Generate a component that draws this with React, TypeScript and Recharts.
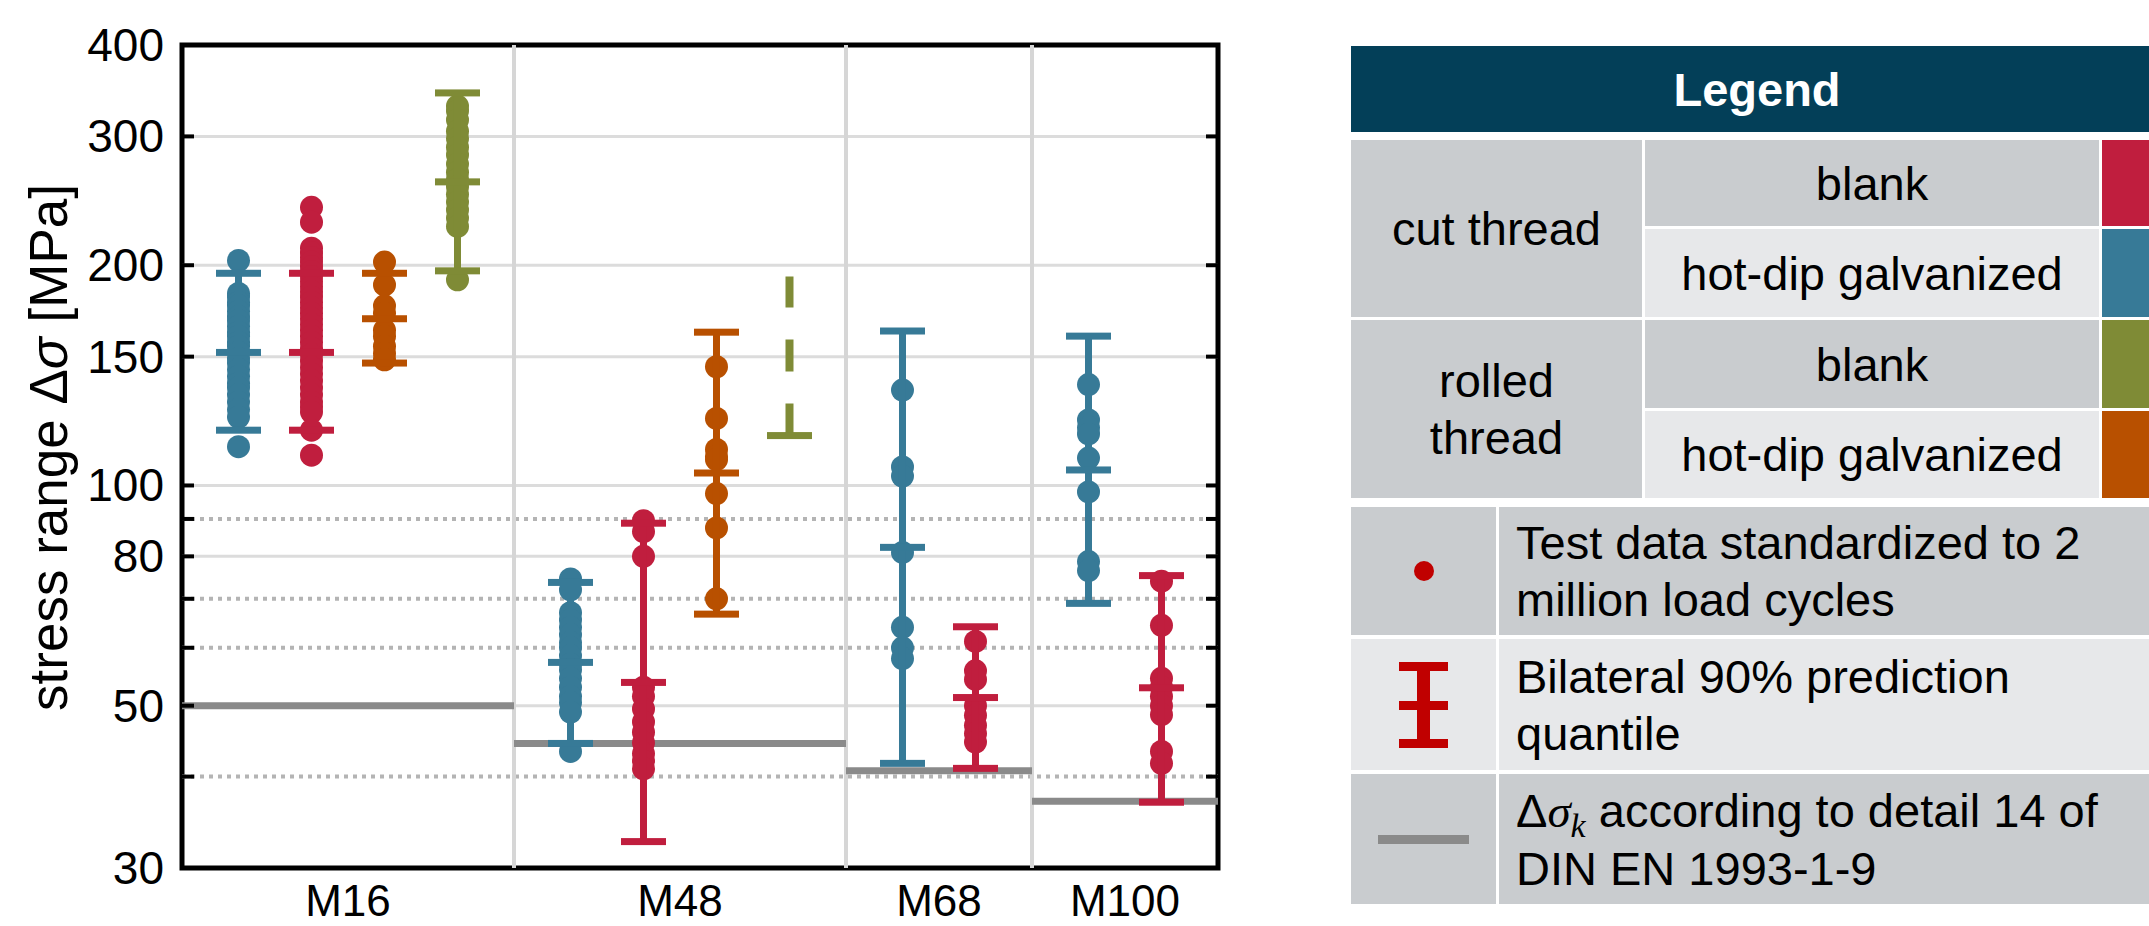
import React from "react";
import { ComposedChart, Scatter, XAxis, YAxis, ReferenceLine, ReferenceArea } from "recharts";

const FONT = "'Liberation Sans', Arial, Helvetica, sans-serif";

const BLUE = "#377a97";
const RED = "#c01e3e";
const ORANGE = "#b85000";
const GREEN = "#7f8b36";
const DSK_GRAY = "#8a8a8a";

const GROUPS = ["M16", "M48", "M68", "M100"];
const SLOTS = [4, 4, 2, 2];
// Δσk (detail 14, DIN EN 1993-1-9) per bolt size
const DELTA_SIGMA_K = [50, 44.4, 40.75, 37.0];

const Y_TICKS = [30, 40, 50, 60, 70, 80, 90, 100, 150, 200, 300, 400];
const Y_LABELED = [30, 50, 80, 100, 150, 200, 300, 400];
const GRID_SOLID = [50, 80, 100, 150, 200, 300];
const GRID_DOTTED = [40, 60, 70, 90];

// test data standardized to 2 million load cycles [MPa]
const M16_CUT_HDG = [203, 183, 181, 178, 176, 173, 170, 168, 165, 162, 160, 157, 155, 152, 149, 147, 144, 141, 138, 136, 133, 130, 127, 124, 113];
const M16_CUT_BLANK = [240, 229, 211, 208, 205, 202, 199, 196, 193, 190, 187, 184, 181, 178, 175, 172, 169, 166, 163, 160, 157, 154, 151, 148, 145, 142, 139, 136, 133, 130, 128, 126, 119, 110];
const M16_ROLLED_HDG = [202, 188, 176, 172, 163, 160, 155, 151.5, 148.5];
const M16_ROLLED_BLANK = [330, 325, 316, 305, 298, 290, 283, 275, 268, 262, 256, 250, 244, 238, 232, 226, 191];
const M48_CUT_HDG = [74.5, 72, 67, 65.5, 64, 62.5, 61, 60, 58.5, 57, 56, 54.5, 53, 51.5, 50.5, 49, 43.3];
const M48_CUT_BLANK = [89.5, 86.5, 80, 53, 51.5, 49.5, 47.5, 46, 44.5, 43, 42, 41];
const M48_ROLLED_HDG = [145.3, 123.5, 112, 109.5, 108.5, 97.5, 87.5, 70];
const M68_CUT_HDG = [135, 106, 103, 81, 64, 60, 58];
const M68_CUT_BLANK = [61.2, 55.8, 54.3, 50, 48.5, 47, 45.8, 44.6];
const M100_CUT_HDG = [137.4, 122.9, 120, 117.6, 109, 98, 78.7, 76.5];
const M100_CUT_BLANK = [74, 64.4, 54.5, 53, 51.5, 50, 48.6, 43.3, 41.7];

// bilateral 90% prediction quantile [lower, mean, upper]
const M16_CUT_HDG_Q = [119, 152, 195];
const M16_CUT_BLANK_Q = [119, 152, 195];
const M16_ROLLED_HDG_Q = [147, 169, 195];
const M16_ROLLED_BLANK_Q = [196.5, 260, 344];
const M48_CUT_HDG_Q = [44.4, 57.3, 73.7];
const M48_CUT_BLANK_Q = [32.6, 53.8, 88.8];
const M48_ROLLED_HDG_Q = [66.7, 104, 162];
const M48_ROLLED_BLANK_RANGE = [117, 193]; // lower quantile only, dashed
const M68_CUT_HDG_Q = [41.7, 82.3, 162.6];
const M68_CUT_BLANK_Q = [41.05, 51.3, 64.1];
const M100_CUT_HDG_Q = [69, 105, 160];
const M100_CUT_BLANK_Q = [36.9, 52.9, 75.3];

const PAD = 0.774;
const GROUP_W = SLOTS.map((n) => n - 1 + 2 * PAD);
const GROUP_START = GROUP_W.map((_, i) => GROUP_W.slice(0, i).reduce((a, b) => a + b, 0));
const X_MAX = GROUP_W.reduce((a, b) => a + b, 0);
const GROUP_CENTER = GROUP_START.map((s, i) => s + GROUP_W[i] / 2);
const slotX = (g: number, s: number) => GROUP_START[g] + PAD + s;

const SERIES = [
  { g: 0, s: 0, color: BLUE, pts: M16_CUT_HDG, q: M16_CUT_HDG_Q },
  { g: 0, s: 1, color: RED, pts: M16_CUT_BLANK, q: M16_CUT_BLANK_Q },
  { g: 0, s: 2, color: ORANGE, pts: M16_ROLLED_HDG, q: M16_ROLLED_HDG_Q },
  { g: 0, s: 3, color: GREEN, pts: M16_ROLLED_BLANK, q: M16_ROLLED_BLANK_Q },
  { g: 1, s: 0, color: BLUE, pts: M48_CUT_HDG, q: M48_CUT_HDG_Q },
  { g: 1, s: 1, color: RED, pts: M48_CUT_BLANK, q: M48_CUT_BLANK_Q },
  { g: 1, s: 2, color: ORANGE, pts: M48_ROLLED_HDG, q: M48_ROLLED_HDG_Q },
  { g: 2, s: 0, color: BLUE, pts: M68_CUT_HDG, q: M68_CUT_HDG_Q },
  { g: 2, s: 1, color: RED, pts: M68_CUT_BLANK, q: M68_CUT_BLANK_Q },
  { g: 3, s: 0, color: BLUE, pts: M100_CUT_HDG, q: M100_CUT_HDG_Q },
  { g: 3, s: 1, color: RED, pts: M100_CUT_BLANK, q: M100_CUT_BLANK_Q },
];

const Empty = () => <g />;

const capShape = (color: string) => (p: any) => (
  <rect x={p.cx - 22.5} y={p.cy - 3.5} width={45} height={7} fill={color} />
);

const dotShape = (color: string) => (p: any) => <circle cx={p.cx} cy={p.cy} r={11.5} fill={color} />;

const LeftTick = (p: any) => {
  const v = p.payload.value;
  return (
    <g>
      <line x1={p.x + 18} x2={p.x + 30} y1={p.y} y2={p.y} stroke="#000" strokeWidth={4} />
      {Y_LABELED.includes(v) && (
        <text x={p.x} y={p.y + 16} textAnchor="end" fontSize={46} fontFamily={FONT} fill="#000">
          {v}
        </text>
      )}
    </g>
  );
};

const RightTick = (p: any) => (
  <line x1={p.x - 12} x2={p.x} y1={p.y} y2={p.y} stroke="#000" strokeWidth={4} />
);

const BottomTick = (p: any) => {
  const v = p.payload.value;
  let idx = 0;
  GROUP_CENTER.forEach((c, i) => {
    if (Math.abs(c - v) < Math.abs(GROUP_CENTER[idx] - v)) idx = i;
  });
  return (
    <text x={p.x} y={p.y + 48} textAnchor="middle" fontSize={44} fontFamily={FONT} fill="#000">
      {GROUPS[idx]}
    </text>
  );
};

const YLabel = (p: any) => {
  const vb = p.viewBox;
  const x = vb.x + 67;
  const y = vb.y + vb.height / 2 - 9;
  return (
    <text x={x} y={y} transform={`rotate(-90, ${x}, ${y})`} textAnchor="middle" fontSize={53} fontFamily={FONT} fill="#000">
      stress range Δ<tspan fontStyle="italic">σ</tspan> [MPa]
    </text>
  );
};

function Chart() {
  return (
    <ComposedChart width={1300} height={926} margin={{ top: 45, right: 0, bottom: 0, left: 0 }}>
      <XAxis
        dataKey="x"
        type="number"
        domain={[0, X_MAX]}
        ticks={GROUP_CENTER}
        allowDataOverflow
        axisLine={false}
        tickLine={false}
        tickSize={0}
        tickMargin={0}
        height={58}
        tick={<BottomTick />}
        interval={0}
      />
      <YAxis
        dataKey="y"
        scale="log"
        domain={[30, 400]}
        ticks={Y_TICKS}
        allowDataOverflow
        axisLine={false}
        tickLine={false}
        tickSize={0}
        tickMargin={18}
        width={182}
        interval={0}
        tick={<LeftTick />}
        label={{ content: YLabel }}
      />
      <YAxis
        yAxisId="right"
        orientation="right"
        dataKey="y"
        scale="log"
        domain={[30, 400]}
        ticks={Y_TICKS}
        allowDataOverflow
        axisLine={false}
        tickLine={false}
        tickSize={0}
        tickMargin={0}
        width={82}
        interval={0}
        tick={<RightTick />}
      />

      {GRID_SOLID.map((v) => (
        <ReferenceLine key={"gs" + v} y={v} stroke="#dcdcdc" strokeWidth={3} />
      ))}
      {GRID_DOTTED.map((v) => (
        <ReferenceLine key={"gd" + v} y={v} stroke="#b4b4b4" strokeWidth={4} strokeDasharray="4 5" />
      ))}
      {GROUP_START.slice(1).map((s) => (
        <ReferenceLine key={"gv" + s} x={s} stroke="#d6d6d6" strokeWidth={4} />
      ))}

      {DELTA_SIGMA_K.map((v, g) => (
        <Scatter
          key={"dsk" + g}
          data={[{ x: GROUP_START[g], y: v }, { x: GROUP_START[g] + GROUP_W[g], y: v }]}
          dataKey="y"
          fill={DSK_GRAY}
          line={{ stroke: DSK_GRAY, strokeWidth: 7 }}
          shape={Empty}
          isAnimationActive={false}
        />
      ))}

      {SERIES.map((sr, i) => (
        <Scatter
          key={"pts" + i}
          data={sr.pts.map((v) => ({ x: slotX(sr.g, sr.s), y: v }))}
          dataKey="y"
          fill={sr.color}
          shape={dotShape(sr.color)}
          isAnimationActive={false}
        />
      ))}

      {SERIES.map((sr, i) => (
        <Scatter
          key={"q" + i}
          data={sr.q.map((v) => ({ x: slotX(sr.g, sr.s), y: v }))}
          dataKey="y"
          fill={sr.color}
          line={{ stroke: sr.color, strokeWidth: 7 }}
          shape={capShape(sr.color)}
          isAnimationActive={false}
        />
      ))}

      <Scatter
        data={M48_ROLLED_BLANK_RANGE.map((v) => ({ x: slotX(1, 3), y: v }))}
        dataKey="y"
        fill={GREEN}
        line={{ stroke: GREEN, strokeWidth: 8, strokeDasharray: "32 32" }}
        shape={Empty}
        isAnimationActive={false}
      />
      <Scatter
        data={[{ x: slotX(1, 3), y: M48_ROLLED_BLANK_RANGE[0] }]}
        dataKey="y"
        fill={GREEN}
        shape={capShape(GREEN)}
        isAnimationActive={false}
      />

      <ReferenceArea x1={0} x2={X_MAX} y1={30} y2={400} fill="none" fillOpacity={0} stroke="#000" strokeWidth={5} />
    </ComposedChart>
  );
}

const GRAY = "#c9cccf";
const LIGHT = "#e7e8ea";
const HEADER = "#033f58";

const cell: React.CSSProperties = {
  display: "flex",
  alignItems: "center",
  justifyContent: "center",
  textAlign: "center",
  lineHeight: "57px",
  fontSize: 47,
  fontFamily: FONT,
  color: "#000",
};

const textCell: React.CSSProperties = {
  ...cell,
  justifyContent: "flex-start",
  textAlign: "left",
  paddingLeft: 17,
  whiteSpace: "nowrap",
};

function Legend() {
  return (
    <>
      <div
        style={{
          position: "absolute",
          left: 1351,
          top: 46,
          width: 812,
          height: 86,
          background: HEADER,
          color: "#fff",
          fontFamily: FONT,
          fontWeight: "bold",
          fontSize: 47,
          display: "flex",
          alignItems: "center",
          justifyContent: "center",
        }}
      >
        Legend
      </div>
      <div
        style={{
          position: "absolute",
          left: 1351,
          top: 140,
          display: "grid",
          gridTemplateColumns: "291px 454px 61px",
          gridTemplateRows: "86px 88px 88px 87px",
          columnGap: 3,
          rowGap: 3,
        }}
      >
        <div style={{ ...cell, gridRow: "1 / span 2", background: GRAY }}>cut thread</div>
        <div style={{ ...cell, background: GRAY }}>blank</div>
        <div style={{ background: RED }} />
        <div style={{ ...cell, background: LIGHT }}>hot-dip galvanized</div>
        <div style={{ background: BLUE }} />
        <div style={{ ...cell, gridRow: "3 / span 2", background: GRAY }}>
          rolled
          <br />
          thread
        </div>
        <div style={{ ...cell, background: GRAY }}>blank</div>
        <div style={{ background: GREEN }} />
        <div style={{ ...cell, background: LIGHT }}>hot-dip galvanized</div>
        <div style={{ background: ORANGE }} />
      </div>
      <div
        style={{
          position: "absolute",
          left: 1351,
          top: 507,
          display: "grid",
          gridTemplateColumns: "145px 700px",
          gridTemplateRows: "128px 131px 130px",
          columnGap: 3,
          rowGap: 4,
        }}
      >
        <div style={{ ...cell, background: GRAY }}>
          <svg width={22} height={22}>
            <circle cx={11} cy={11} r={10} fill="#c00000" />
          </svg>
        </div>
        <div style={{ ...textCell, background: GRAY }}>
          <div>
            Test data standardized to 2
            <br />
            million load cycles
          </div>
        </div>
        <div style={{ ...cell, background: LIGHT }}>
          <svg width={49} height={86}>
            <rect x={18} y={0} width={13} height={86} fill="#c00000" />
            <rect x={0} y={0} width={49} height={9} fill="#c00000" />
            <rect x={0} y={39} width={49} height={9} fill="#c00000" />
            <rect x={0} y={77} width={49} height={9} fill="#c00000" />
          </svg>
        </div>
        <div style={{ ...textCell, background: LIGHT }}>
          <div>
            Bilateral 90% prediction
            <br />
            quantile
          </div>
        </div>
        <div style={{ ...cell, background: GRAY }}>
          <svg width={91} height={9}>
            <rect x={0} y={0} width={91} height={9} fill={DSK_GRAY} />
          </svg>
        </div>
        <div style={{ ...textCell, background: GRAY }}>
          <div>
            Δ<span style={{ fontFamily: "'Liberation Serif', 'DejaVu Serif', serif", fontStyle: "italic" }}>σ</span>
            <sub style={{ fontFamily: "'Liberation Serif', 'DejaVu Serif', serif", fontStyle: "italic", fontSize: 34, lineHeight: 0 }}>k</sub>{" "}
            according to detail 14 of
            <br />
            DIN EN 1993-1-9
          </div>
        </div>
      </div>
    </>
  );
}

export default function App() {
  return (
    <div style={{ position: "absolute", left: 0, top: 0, width: 2149, height: 926, overflow: "hidden", background: "#fff" }}>
      <div style={{ position: "absolute", left: 0, top: 0 }}>
        <Chart />
      </div>
      <Legend />
    </div>
  );
}
